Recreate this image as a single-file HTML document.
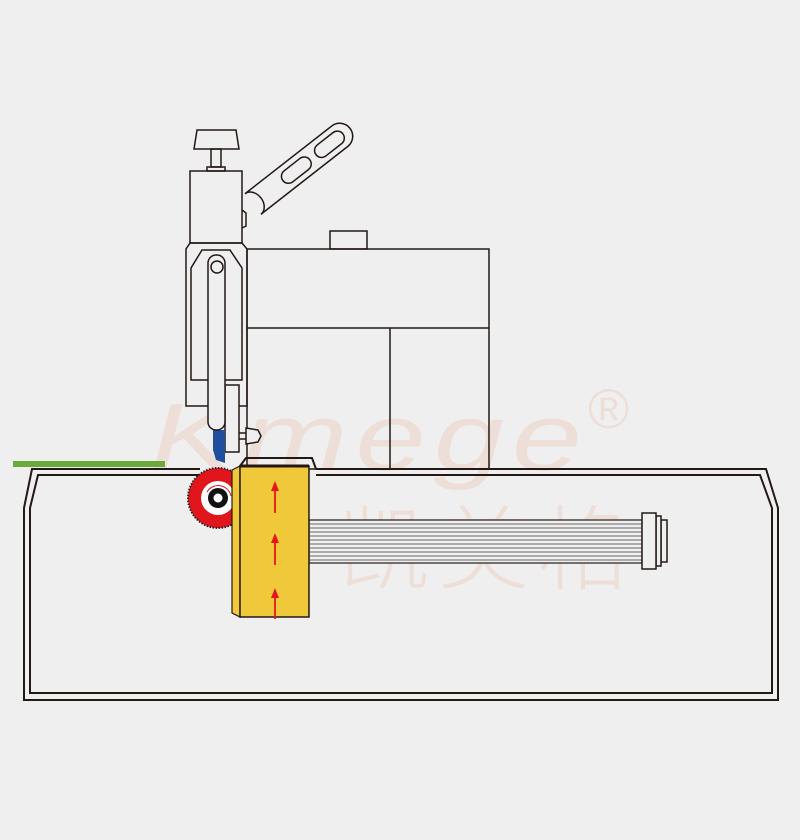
<!DOCTYPE html>
<html><head><meta charset="utf-8"><style>
html,body{margin:0;padding:0;background:#efefef;}
svg{display:block;}
</style></head><body>
<svg width="800" height="840" viewBox="0 0 800 840" xmlns="http://www.w3.org/2000/svg">
<rect width="800" height="840" fill="#efefef"/>
<!-- watermark -->
<g fill="#ecd6c8" opacity="0.6">
<text x="150" y="470" font-family="Liberation Sans, sans-serif" font-size="96" font-style="italic" letter-spacing="6" textLength="440" lengthAdjust="spacingAndGlyphs">Kmege</text>
<text x="338" y="582" font-family="Liberation Sans, 'Noto Sans CJK SC', sans-serif" font-size="92" font-weight="300" letter-spacing="8">凯美格</text>
<text x="588" y="428" font-family="Liberation Sans, sans-serif" font-size="56">®</text>
</g>
<g fill="none" stroke="#231815" stroke-width="1.5">
<rect x="247" y="249" width="242" height="220" fill="none"/>
<line x1="247" y1="328" x2="489" y2="328"/>
<line x1="390" y1="328" x2="390" y2="469"/>
<rect x="330" y="231" width="37" height="18"/>
<rect x="190" y="171" width="52" height="72"/>
<polygon points="197,130 236,130 239,149 194,149"/>
<rect x="211" y="149" width="10" height="18"/>
<rect x="207" y="167" width="18" height="4"/>
<g transform="translate(253,204) rotate(-38)">
<path d="M0,-13 L110,-13 A13,13 0 0 1 110,13 L0,13"/>
<rect x="38" y="-7" width="34" height="14" rx="7"/>
<rect x="80" y="-7" width="34" height="14" rx="7"/>
<path d="M0,-13 A10,13 0 0 1 0,13"/>
</g>
<path d="M242,210 L246,213 L246,226 L242,228"/>
<polygon points="190,243 242,243 247,249 247,406 186,406 186,249"/>
<polygon points="202,250 230,250 242,268 242,380 191,380 191,268"/>
<rect x="225" y="385" width="14" height="67" fill="#efefef"/>
<path d="M246,428 L258,430 L261,436 L258,442 L246,444 Z M239,433 L246,433 M239,439 L246,439" fill="#efefef"/>
</g>
<polygon points="213,430 225,430 225,463 216,460 213,450" fill="#1f4f9e"/>
<rect x="208" y="255" width="17" height="175" rx="8" fill="#efefef" stroke="#231815" stroke-width="1.5"/>
<circle cx="217" cy="267" r="6" fill="none" stroke="#231815" stroke-width="1.5"/>
<rect x="13" y="461" width="152" height="6" fill="#6aaa3a"/>
<g fill="none" stroke="#231815" stroke-width="2">
<polyline points="200,469 32,469 24,508 24,700 778,700 778,508 766,469 316,469"/>
<polyline points="200,475 38,475 30,508 30,693 772,693 772,508 760,475 316,475"/>
<polyline points="240,466 246,458 312,458 316,469"/>
</g>
<rect x="309" y="520" width="333" height="43" fill="#efefef" stroke="#231815" stroke-width="1.2"/>
<g stroke="#666" stroke-width="0.9">
<line x1="309" y1="524" x2="642" y2="524"/><line x1="309" y1="528" x2="642" y2="528"/>
<line x1="309" y1="532" x2="642" y2="532"/><line x1="309" y1="536" x2="642" y2="536"/>
<line x1="309" y1="540" x2="642" y2="540"/><line x1="309" y1="544" x2="642" y2="544"/>
<line x1="309" y1="548" x2="642" y2="548"/><line x1="309" y1="552" x2="642" y2="552"/>
<line x1="309" y1="556" x2="642" y2="556"/><line x1="309" y1="560" x2="642" y2="560"/>
</g>
<g fill="#efefef" stroke="#231815" stroke-width="1.5">
<rect x="661" y="520" width="6" height="42"/>
<rect x="656" y="516" width="5" height="50"/>
<rect x="642" y="513" width="14" height="56"/>
</g>
<circle cx="218" cy="498" r="30" fill="#e0161c" stroke="#222" stroke-width="2" stroke-dasharray="1.5 1.5"/>
<circle cx="218" cy="498" r="17" fill="#fff"/>
<circle cx="218" cy="498" r="10" fill="#111"/>
<circle cx="218" cy="498" r="4.5" fill="#fff"/>
<path d="M207,492 A13,13 0 0 1 231,496" fill="none" stroke="#e0161c" stroke-width="1"/>
<polygon points="232,470 240,466 240,617 232,613" fill="#f0c93a" stroke="#231815" stroke-width="1.2"/>
<rect x="240" y="466" width="69" height="151" fill="#f0c93a" stroke="#231815" stroke-width="1.5"/>
<line x1="240" y1="466" x2="309" y2="466" stroke="#231815" stroke-width="3"/>
<g stroke="#e8161c" stroke-width="1.8" fill="#e8161c">
<line x1="275" y1="488" x2="275" y2="513"/><polygon points="271,491 279,491 275,481" stroke="none"/>
<line x1="275" y1="540" x2="275" y2="565"/><polygon points="271,543 279,543 275,533" stroke="none"/>
<line x1="275" y1="596" x2="275" y2="619"/><polygon points="271,598 279,598 275,588" stroke="none"/>
</g>
</svg>
</body></html>
